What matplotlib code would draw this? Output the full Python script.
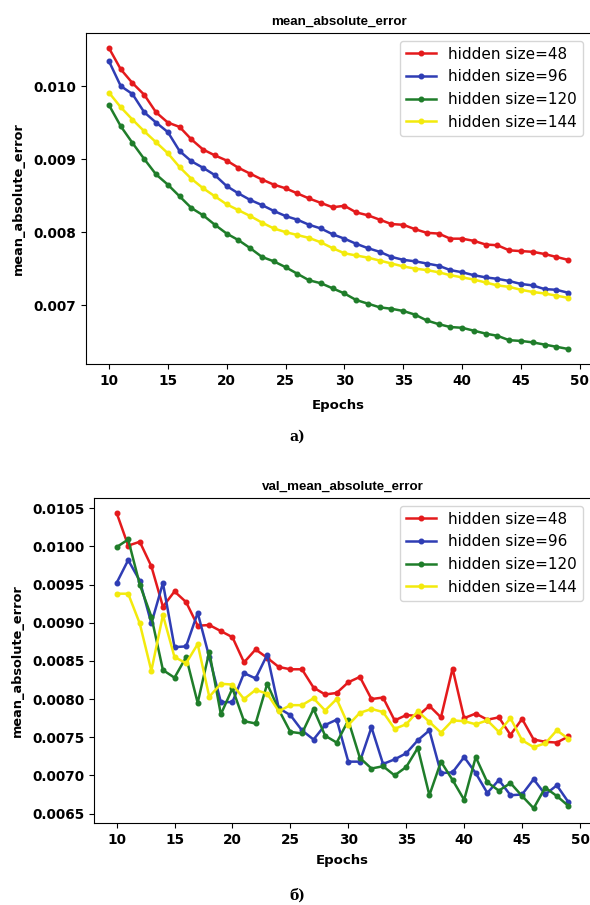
import matplotlib
matplotlib.use('Agg')
import matplotlib.pyplot as plt
from matplotlib.ticker import MultipleLocator

epochs = list(range(10, 50))
sizes = [48, 96, 120, 144]
colors = ['#e41a1c', '#2f3db4', '#1f7d2a', '#f3ea0c']

mae_48 = [0.01052, 0.01023, 0.01004, 0.00988, 0.00964, 0.00950, 0.00944, 0.00927, 0.00913, 0.00905,
          0.00898, 0.00888, 0.00880, 0.00872, 0.00865, 0.00860, 0.00853, 0.00846, 0.00840, 0.00834,
          0.00836, 0.00827, 0.00823, 0.00817, 0.00811, 0.00810, 0.00804, 0.00799, 0.00798, 0.00791,
          0.00791, 0.00788, 0.00783, 0.00782, 0.00775, 0.00774, 0.00773, 0.00770, 0.00766, 0.00762]
mae_96 = [0.01034, 0.01000, 0.00989, 0.00964, 0.00950, 0.00937, 0.00911, 0.00897, 0.00888, 0.00878,
          0.00863, 0.00853, 0.00844, 0.00837, 0.00829, 0.00822, 0.00817, 0.00810, 0.00805, 0.00797,
          0.00791, 0.00784, 0.00778, 0.00773, 0.00766, 0.00762, 0.00760, 0.00757, 0.00754, 0.00748,
          0.00745, 0.00741, 0.00738, 0.00736, 0.00733, 0.00729, 0.00727, 0.00722, 0.00721, 0.00717]
mae_120 = [0.00974, 0.00945, 0.00922, 0.00900, 0.00879, 0.00865, 0.00849, 0.00833, 0.00823, 0.00810,
           0.00798, 0.00789, 0.00778, 0.00766, 0.00760, 0.00752, 0.00743, 0.00734, 0.00730, 0.00723,
           0.00716, 0.00707, 0.00702, 0.00697, 0.00695, 0.00692, 0.00687, 0.00679, 0.00674, 0.00670,
           0.00669, 0.00665, 0.00661, 0.00658, 0.00652, 0.00651, 0.00649, 0.00646, 0.00643, 0.00640]
mae_144 = [0.00991, 0.00971, 0.00954, 0.00938, 0.00923, 0.00908, 0.00889, 0.00873, 0.00860, 0.00849,
           0.00838, 0.00830, 0.00822, 0.00813, 0.00805, 0.00800, 0.00796, 0.00792, 0.00786, 0.00778,
           0.00771, 0.00768, 0.00765, 0.00761, 0.00757, 0.00753, 0.00750, 0.00748, 0.00745, 0.00741,
           0.00738, 0.00735, 0.00731, 0.00727, 0.00725, 0.00721, 0.00718, 0.00716, 0.00713, 0.00710]

val_mae_48 = [0.01044, 0.01001, 0.01006, 0.00974, 0.00921, 0.00941, 0.00927, 0.00896, 0.00897, 0.00889,
              0.00881, 0.00848, 0.00865, 0.00854, 0.00842, 0.00839, 0.00839, 0.00815, 0.00806, 0.00808,
              0.00822, 0.00829, 0.00800, 0.00802, 0.00772, 0.00779, 0.00778, 0.00791, 0.00776, 0.00840,
              0.00775, 0.00781, 0.00773, 0.00776, 0.00753, 0.00774, 0.00747, 0.00744, 0.00743, 0.00751]
val_mae_96 = [0.00952, 0.00982, 0.00955, 0.00899, 0.00952, 0.00868, 0.00869, 0.00913, 0.00855, 0.00796,
              0.00796, 0.00834, 0.00827, 0.00858, 0.00788, 0.00779, 0.00759, 0.00747, 0.00766, 0.00773,
              0.00718, 0.00718, 0.00763, 0.00715, 0.00721, 0.00729, 0.00746, 0.00759, 0.00703, 0.00704,
              0.00724, 0.00703, 0.00677, 0.00694, 0.00674, 0.00675, 0.00695, 0.00675, 0.00687, 0.00665]
val_mae_120 = [0.00999, 0.01009, 0.00950, 0.00908, 0.00838, 0.00828, 0.00855, 0.00795, 0.00862, 0.00780,
               0.00814, 0.00771, 0.00768, 0.00820, 0.00786, 0.00757, 0.00755, 0.00787, 0.00752, 0.00743,
               0.00772, 0.00723, 0.00709, 0.00712, 0.00700, 0.00711, 0.00736, 0.00674, 0.00718, 0.00694,
               0.00668, 0.00724, 0.00691, 0.00680, 0.00690, 0.00673, 0.00657, 0.00684, 0.00673, 0.00660]
val_mae_144 = [0.00938, 0.00938, 0.00899, 0.00837, 0.00910, 0.00855, 0.00847, 0.00872, 0.00803, 0.00820,
               0.00819, 0.00800, 0.00812, 0.00807, 0.00784, 0.00792, 0.00792, 0.00801, 0.00785, 0.00800,
               0.00766, 0.00782, 0.00787, 0.00783, 0.00761, 0.00767, 0.00784, 0.00770, 0.00756, 0.00772,
               0.00771, 0.00767, 0.00772, 0.00757, 0.00775, 0.00746, 0.00737, 0.00742, 0.00759, 0.00748]

plt.rcParams['font.family'] = ['DejaVu Sans']
plt.rcParams['font.weight'] = 'bold'

W, H = 590, 905
fig = plt.figure(figsize=(W / 100, H / 100), dpi=100)


def px_axes(left, top, right, bottom):
    return fig.add_axes([left / W, 1 - bottom / H, (right - left) / W, (bottom - top) / H])


def draw(ax, series, title, ystep, xlab_y, ylab_x):
    for vals, size, c in zip(series, sizes, colors):
        ax.plot(epochs, vals, color=c, lw=1.8, marker='o', ms=3.3,
                label=f'hidden size={size}')
    ax.set_title(title, fontsize=9.6, fontweight='bold', pad=6, family='Liberation Sans')
    ax.set_xlabel('Epochs', fontsize=9.5, fontweight='bold')
    ax.set_ylabel('mean_absolute_error', fontsize=9.3, fontweight='bold')
    ax.xaxis.set_label_coords(0.5, xlab_y)
    ax.yaxis.set_label_coords(ylab_x, 0.5)
    ax.xaxis.set_major_locator(MultipleLocator(5))
    ax.yaxis.set_major_locator(MultipleLocator(ystep))
    ax.tick_params(labelsize=9.8)
    ax.legend(loc='upper right', prop={'weight': 'normal', 'size': 11},
              handlelength=2.0, framealpha=0.8)


ax1 = px_axes(86, 33, 591, 364)
draw(ax1, [mae_48, mae_96, mae_120, mae_144], 'mean_absolute_error', 0.001, -0.105, -0.122)

ax2 = px_axes(94, 498, 591, 823)
draw(ax2, [val_mae_48, val_mae_96, val_mae_120, val_mae_144], 'val_mean_absolute_error',
     0.0005, -0.095, -0.142)

fig.text(297 / W, 1 - 437 / H, 'а)', ha='center', va='center', fontsize=10,
         family='DejaVu Serif', fontweight='bold')
fig.text(297 / W, 1 - 896 / H, 'б)', ha='center', va='center', fontsize=10,
         family='DejaVu Serif', fontweight='bold')

fig.savefig('out.png', dpi=100)
plt.close()
